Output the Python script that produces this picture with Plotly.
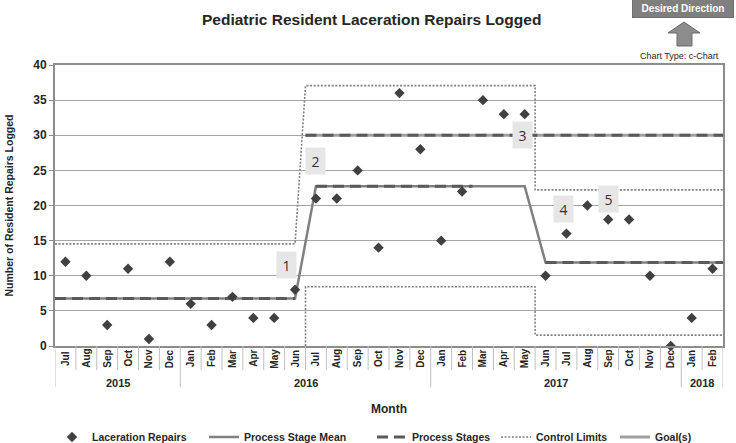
import plotly.graph_objects as go

# ---------------- data ----------------
months = ["Jul", "Aug", "Sep", "Oct", "Nov", "Dec",
          "Jan", "Feb", "Mar", "Apr", "May", "Jun", "Jul", "Aug", "Sep", "Oct", "Nov", "Dec",
          "Jan", "Feb", "Mar", "Apr", "May", "Jun", "Jul", "Aug", "Sep", "Oct", "Nov", "Dec",
          "Jan", "Feb"]
years = ["2015", "2016", "2017", "2018"]
year_counts = [6, 12, 12, 2]
repairs = [12, 10, 3, 11, 1, 12,
           6, 3, 7, 4, 4, 8, 21, 21, 25, 14, 36, 28,
           15, 22, 35, 33, 33, 10, 16, 20, 18, 18, 10, 0,
           4, 11]

# process stages: first / last month index of each stage, calc-period end
stage_start = [0, 12, 23]
stage_end = [11, 22, 31]
stage_calc_end = [11, 19, 31]
stage_mean = [6.75, 22.75, 11.89]
stage_ucl = [14.54, 37.06, 22.23]
stage_lcl = [0.0, 8.44, 1.55]
goal_value = 30
goal_start = 12
stage_labels = ["1", "2", "3", "4", "5"]
label_x = [10.6, 12.0, 21.9, 23.85, 26.0]
label_y = [11.5, 26.3, 30.1, 19.5, 20.9]

n = len(repairs)
x = list(range(n))
LEFT, RIGHT = -0.5, n - 0.5

FONT = "Liberation Sans Narrow, Arial Narrow, Liberation Sans, Arial, sans-serif"

# ---------- derived line geometry ----------
mean_x, mean_y = [], []
for k in range(len(stage_mean)):
    s = LEFT if k == 0 else stage_start[k]
    e = RIGHT if k == len(stage_mean) - 1 else stage_end[k]
    mean_x += [s, e]
    mean_y += [stage_mean[k], stage_mean[k]]

ps_x, ps_y = [], []
for k in range(len(stage_mean)):
    s = LEFT if k == 0 else stage_start[k]
    if k == len(stage_mean) - 1:
        e = RIGHT
    elif stage_calc_end[k] == stage_end[k]:
        e = stage_end[k]
    else:
        e = stage_calc_end[k] + 0.5
    ps_x += [s, e, None]
    ps_y += [stage_mean[k], stage_mean[k], None]

ucl_x, ucl_y = [LEFT, stage_end[0], stage_end[0] + 0.5], [stage_ucl[0], stage_ucl[0], stage_ucl[1]]
for k in range(1, len(stage_ucl)):
    e = RIGHT if k == len(stage_ucl) - 1 else stage_end[k] + 0.5
    ucl_x += [e]
    ucl_y += [stage_ucl[k]]
    if k < len(stage_ucl) - 1:
        ucl_x += [e]
        ucl_y += [stage_ucl[k + 1]]

lcl_x, lcl_y = [stage_start[1] - 0.5, stage_start[1] - 0.5], [0, stage_lcl[1]]
for k in range(1, len(stage_lcl)):
    e = RIGHT if k == len(stage_lcl) - 1 else stage_end[k] + 0.5
    lcl_x += [e]
    lcl_y += [stage_lcl[k]]
    if k < len(stage_lcl) - 1:
        lcl_x += [e]
        lcl_y += [stage_lcl[k + 1]]

fig = go.Figure()

fig.add_trace(go.Scatter(x=ucl_x + [None] + lcl_x, y=ucl_y + [None] + lcl_y, mode="lines",
                         name="Control Limits", legend="legend4",
                         line=dict(color="#808080", width=1.6, dash="2px,1.6px")))
fig.add_trace(go.Scatter(x=[goal_start - 0.5, RIGHT], y=[goal_value, goal_value], mode="lines",
                         name="Goal(s)", legend="legend5",
                         line=dict(color="#a0a0a0", width=3)))
fig.add_trace(go.Scatter(x=[goal_start - 0.5, RIGHT], y=[goal_value, goal_value], mode="lines",
                         showlegend=False, hoverinfo="skip",
                         line=dict(color="#5a5a5a", width=3, dash="11px,6px")))
fig.add_trace(go.Scatter(x=mean_x, y=mean_y, mode="lines", name="Process Stage Mean",
                         legend="legend2", line=dict(color="#808080", width=2.5)))
fig.add_trace(go.Scatter(x=ps_x, y=ps_y, mode="lines", name="Process Stages", legend="legend3",
                         line=dict(color="#5a5a5a", width=3, dash="11px,6px")))
fig.add_trace(go.Scatter(x=x, y=repairs, mode="markers", name="Laceration Repairs",
                         legend="legend", cliponaxis=False,
                         marker=dict(symbol="diamond", size=8, color="#404040")))

annotations = []
shapes = []

# stage labels
for t, lx, ly in zip(stage_labels, label_x, label_y):
    annotations.append(dict(x=lx, y=ly, xref="x", yref="y", text=t, showarrow=False,
                            xanchor="center", yanchor="middle",
                            bgcolor="#e6e6e6", width=17, height=24,
                            font=dict(family="Open Sans, Liberation Sans", size=14, color="#333333")))

# x-axis category labels
PH = 281.0
for i, m in enumerate(months):
    annotations.append(dict(x=i, y=-12.5 / PH, xref="x", yref="paper", text=m, textangle=-90,
                            showarrow=False, xanchor="center", yanchor="middle",
                            font=dict(family=FONT, size=10, color="#262626", weight="bold")))

boundaries = [LEFT]
pos = LEFT
for c in year_counts:
    pos += c
    boundaries.append(pos)
start = LEFT
for yname, c in zip(years, year_counts):
    annotations.append(dict(x=start + c / 2, y=-36.5 / PH, xref="x", yref="paper", text=yname,
                            showarrow=False, xanchor="center", yanchor="middle",
                            font=dict(family=FONT, size=11, color="#262626", weight="bold")))
    start += c

for i in range(1, n):
    b = i - 0.5
    if b in boundaries:
        continue
    shapes.append(dict(type="line", xref="x", yref="paper", x0=b, x1=b, y0=0, y1=-24 / PH,
                       line=dict(color="#bfbfbf", width=1)))
for b in boundaries:
    shapes.append(dict(type="line", xref="x", yref="paper", x0=b, x1=b, y0=0, y1=-41 / PH,
                       line=dict(color="#bfbfbf", width=1)))

# Month title
annotations.append(dict(x=0.5, y=-63 / PH, xref="paper", yref="paper", text="Month",
                        showarrow=False, xanchor="center", yanchor="middle",
                        font=dict(family=FONT, size=12, color="#262626", weight="bold")))

# Desired direction box + arrow + chart type
PW = 668.0
def px(xp):
    return (xp - 55) / PW
def py(yp):
    return (346 - yp) / PH

annotations.append(dict(x=px(683), y=py(9), xref="paper", yref="paper", text="Desired Direction",
                        showarrow=False, xanchor="center", yanchor="middle",
                        bgcolor="#7f7f7f", width=98, height=15,
                        bordercolor="#6f6f6f", borderwidth=1,
                        font=dict(family=FONT, size=10, color="white", weight="bold")))
arrow_pts = [(684, 22), (700, 33), (692, 33), (692, 46), (677, 46), (677, 33), (668, 33)]
path = "M " + " L ".join(f"{px(a):.5f},{py(b):.5f}" for a, b in arrow_pts) + " Z"
shapes.append(dict(type="path", xref="paper", yref="paper", path=path,
                   fillcolor="#8c8c8c", line=dict(color="#6a6a6a", width=1)))
annotations.append(dict(x=px(679), y=py(56), xref="paper", yref="paper",
                        text="Chart Type: c-Chart", showarrow=False,
                        xanchor="center", yanchor="middle",
                        font=dict(family="Liberation Sans, Arial", size=9, color="#262626")))

# legends: one per entry, placed by where the reference text starts
legend_text_start = [94, 246, 414, 538, 657]
legend_font = dict(family=FONT, size=10.5, color="#262626", weight="bold")
legend_layout = {}
for k, ts in enumerate(legend_text_start):
    key = "legend" if k == 0 else f"legend{k + 1}"
    legend_layout[key] = dict(orientation="h", xref="container", yref="container",
                              x=(ts - 42) / 736, xanchor="left", y=6 / 443, yanchor="middle",
                              font=legend_font, itemwidth=30, bgcolor="rgba(0,0,0,0)")

fig.update_layout(
    width=736, height=443,
    margin=dict(l=55, r=13, t=65, b=97, autoexpand=False),
    paper_bgcolor="white", plot_bgcolor="white",
    title=dict(text="Pediatric Resident Laceration Repairs Logged", x=0.505, xanchor="center",
               y=1 - 20 / 443, yanchor="middle",
               font=dict(family=FONT, size=15.5, color="#262626", weight="bold")),
    xaxis=dict(range=[LEFT, RIGHT], showticklabels=False, ticks="", showgrid=False,
               zeroline=False, showline=True, linecolor="#8c8c8c", linewidth=2, mirror=True),
    yaxis=dict(range=[0, 40], dtick=5, showgrid=True, gridcolor="#a6a6a6", gridwidth=1,
               zeroline=False, showline=True, linecolor="#8c8c8c", linewidth=2, mirror=True,
               ticks="outside", ticklen=4, tickcolor="#8c8c8c",
               tickfont=dict(family=FONT, size=12, color="#262626", weight="bold"),
               title=dict(text="Number of Resident Repairs Logged", standoff=18,
                          font=dict(family=FONT, size=10.5, color="#262626", weight="bold"))),
    annotations=annotations,
    shapes=shapes,
    showlegend=True,
    **legend_layout,
)

fig.write_html("out.html", config={"displayModeBar": False},
               post_script="document.body.style.margin='0';document.body.style.padding='0';")
